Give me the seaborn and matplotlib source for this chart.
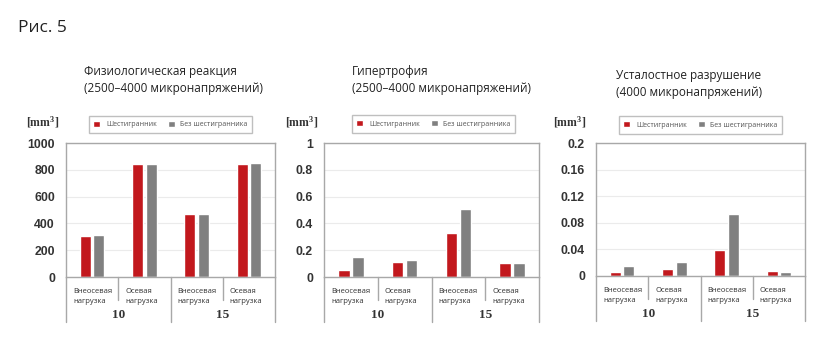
import matplotlib
matplotlib.use("Agg")
import matplotlib.pyplot as plt
import seaborn as sns
import pandas as pd

# categories and groups
cat_labels = ["Внеосевая\nнагрузка", "Осевая\nнагрузка", "Внеосевая\nнагрузка", "Осевая\nнагрузка"]
cat_keys = ["10 Внеосевая", "10 Осевая", "15 Внеосевая", "15 Осевая"]
group_labels = ["10", "15"]
series_names = ["Шестигранник", "Без шестигранника"]

# values
phys_hex = [305, 842, 472, 845]
phys_nohex = [310, 847, 467, 850]
hyper_hex = [0.053, 0.11, 0.33, 0.105]
hyper_nohex = [0.15, 0.13, 0.505, 0.105]
fat_hex = [0.0055, 0.010, 0.039, 0.0075]
fat_nohex = [0.0155, 0.0215, 0.093, 0.006]

titles = [
    "Физиологическая реакция\n(2500–4000 микронапряжений)",
    "Гипертрофия\n(2500–4000 микронапряжений)",
    "Усталостное разрушение\n(4000 микронапряжений)",
]
yticks = [
    [0, 200, 400, 600, 800, 1000],
    [0, 0.2, 0.4, 0.6, 0.8, 1],
    [0, 0.04, 0.08, 0.12, 0.16, 0.2],
]
ytick_labels = [
    ["0", "200", "400", "600", "800", "1000"],
    ["0", "0.2", "0.4", "0.6", "0.8", "1"],
    ["0", "0.04", "0.08", "0.12", "0.16", "0.2"],
]

RED = "#c2181d"
GRAY = "#808080"
SPINE = "#a8a8a8"

sns.set_theme(style="white")
plt.rcParams["font.family"] = ["Open Sans", "DejaVu Sans"]
plt.rcParams["mathtext.fontset"] = "custom"
plt.rcParams["mathtext.rm"] = "Liberation Serif"
plt.rcParams["mathtext.bf"] = "Liberation Serif:bold"

W, H = 835, 353
fig = plt.figure(figsize=(W / 100, H / 100), dpi=100)


def px_axes(l, t, r, b):
    return fig.add_axes([l / W, 1 - b / H, (r - l) / W, (b - t) / H])


def make_df(a, b):
    rows = []
    for k, v in zip(cat_keys, a):
        rows.append({"cat": k, "series": series_names[0], "value": v})
    for k, v in zip(cat_keys, b):
        rows.append({"cat": k, "series": series_names[1], "value": v})
    return pd.DataFrame(rows)


panels = [
    dict(box=(66, 143, 275, 277), data=(phys_hex, phys_nohex), title_xy=(84, 80),
         unit_xy=(43, 122), leg=(90, 114, 251, 135)),
    dict(box=(324, 143, 539, 277), data=(hyper_hex, hyper_nohex), title_xy=(352, 80),
         unit_xy=(302, 122), leg=(354, 115, 513, 133)),
    dict(box=(596, 143, 805, 276), data=(fat_hex, fat_nohex), title_xy=(616, 84),
         unit_xy=(570, 122), leg=(620, 115, 781, 135)),
]

fig.text(18 / W, 1 - 28 / H, "Рис. 5", fontsize=12.5, color="#222222", va="center", ha="left")

for i, p in enumerate(panels):
    l, t, r, b = p["box"]
    ax = px_axes(l, t, r, b)
    df = make_df(*p["data"])
    sns.barplot(data=df, x="cat", y="value", hue="series", order=cat_keys,
                hue_order=series_names, palette=[RED, GRAY], width=0.52, gap=0.18,
                saturation=1, ax=ax, legend=True)
    ax.set_xlim(-0.5, 3.5)
    ax.set_ylim(yticks[i][0], yticks[i][-1])
    ax.set_yticks(yticks[i])
    ax.set_yticklabels(ytick_labels[i], fontfamily=["Liberation Sans"], fontweight="bold",
                       fontsize=8.8, color="#333333")
    ax.tick_params(axis="y", length=0, pad=8)
    ax.set_xticks([])
    ax.set_xlabel("")
    ax.set_ylabel("")
    ax.yaxis.grid(True, color="#ebebeb", linewidth=0.8)
    ax.set_axisbelow(True)
    for s in ax.spines.values():
        s.set_color(SPINE)
        s.set_linewidth(1)

    # category labels below the axis, left aligned in each cell
    for j, lab in enumerate(cat_labels):
        ax.annotate(lab, xy=(j - 0.5, 0), xycoords=("data", "axes fraction"),
                    xytext=(5, -8), textcoords="offset points", ha="left", va="top",
                    fontsize=5.5, color="#333333", linespacing=1.55)
    # separators under the axis
    tr = ax.get_xaxis_transform()
    axh = (b - t)
    short = -23 / axh
    long_ = -45 / axh
    for x in [0.5, 2.5]:
        ax.plot([x, x], [0, short], transform=tr, color=SPINE, lw=1, clip_on=False)
    for x in [-0.5, 1.5, 3.5]:
        ax.plot([x, x], [0, long_], transform=tr, color=SPINE, lw=1, clip_on=False)
    for g, gx in zip(group_labels, [0.5, 2.5]):
        ax.text(gx, -38 / axh, g, transform=tr, ha="center", va="center",
                fontfamily=["Liberation Serif"], fontweight="bold", fontsize=9.5,
                color="#333333")

    # legend box above the axes
    lx0, ly0, lx1, ly1 = p["leg"]
    handles, labels = ax.get_legend_handles_labels()
    ax.legend(handles, labels, loc="center",
              bbox_to_anchor=(((lx0 + lx1) / 2 - l) / (r - l), (b - (ly0 + ly1) / 2) / axh),
              ncol=2, frameon=True, fancybox=False, edgecolor="#b0b0b0",
              fontsize=5, handlelength=1.0, handleheight=1.0, handletextpad=0.8,
              columnspacing=1.6, borderpad=0.7, borderaxespad=0, labelcolor="#555555")
    ax.get_legend().get_frame().set_linewidth(1)

    # unit label
    ux, uy = p["unit_xy"]
    fig.text(ux / W, 1 - uy / H, r"$\mathbf{[mm^3]}$", ha="center", va="center",
             fontsize=8.5, color="#333333")

    # title
    tx, ty = p["title_xy"]
    fig.text(tx / W, 1 - ty / H, titles[i], ha="left", va="center", fontsize=8.5,
             color="#222222", linespacing=1.35)

fig.savefig("out.png", dpi=100, facecolor="white")
